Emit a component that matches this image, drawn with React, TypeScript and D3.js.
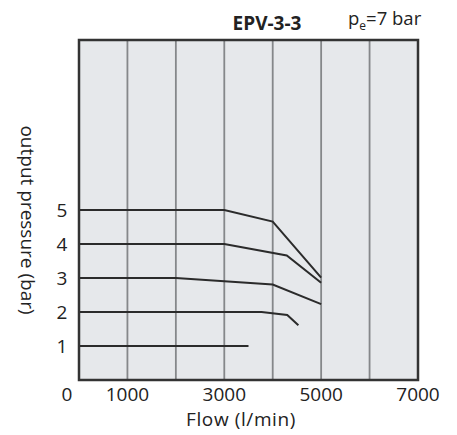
import React from "react";
import * as d3 from "d3";

const xTicks = [0, 1000, 3000, 5000, 7000];
const xGrid = [1000, 2000, 3000, 4000, 5000, 6000];
const yTicks = [1, 2, 3, 4, 5];

const curve5: [number, number][] = [[0, 5], [3000, 5], [4000, 4.66], [5000, 3.01]];
const curve4: [number, number][] = [[0, 4], [3000, 4], [4290, 3.66], [5000, 2.86]];
const curve3: [number, number][] = [[0, 3], [2000, 3], [4000, 2.81], [5000, 2.23]];
const curve2: [number, number][] = [[0, 2], [3770, 2], [4300, 1.91], [4530, 1.61]];
const curve1: [number, number][] = [[0, 1], [3500, 1]];
const curves = [curve5, curve4, curve3, curve2, curve1];

const W = 457, H = 435;
const left = 79, right = 418, top = 40, bottom = 380;

export default function App() {
  const x = d3.scaleLinear().domain([0, 7000]).range([left, right]);
  const y = d3.scaleLinear().domain([0, 10]).range([bottom, top]);
  const line = d3.line<[number, number]>().x(d => x(d[0])).y(d => y(d[1]));
  const font = "'Open Sans', sans-serif";
  return (
    <svg width={W} height={H} style={{ position: "absolute", left: 0, top: 0, background: "#fff" }}>
      <rect x={left} y={top} width={right - left} height={bottom - top} fill="#e6e8eb" />
      {xGrid.map(v => (
        <line key={v} x1={x(v)} x2={x(v)} y1={top} y2={bottom} stroke="#85878a" strokeWidth={1.8} />
      ))}
      {curves.map((c, i) => (
        <path key={i} d={line(c) ?? ""} fill="none" stroke="#2b2b2b" strokeWidth={2} />
      ))}
      <rect x={left} y={top} width={right - left} height={bottom - top} fill="none" stroke="#333" strokeWidth={2.5} />
      {xTicks.map(v => (
        <text key={v} x={v === 0 ? x(v) - 12 : x(v)} y={400.5} textAnchor="middle" fontFamily={font} fontSize={19} fill="#222">{v}</text>
      ))}
      {yTicks.map(v => (
        <text key={v} x={62} y={y(v) + 6.5} textAnchor="middle" fontFamily={font} fontSize={19} fill="#222">{v}</text>
      ))}
      <text x={241} y={426} textAnchor="middle" fontFamily={font} fontSize={19} letterSpacing={0.6} fill="#222">Flow (l/min)</text>
      <text transform={`translate(21,220) rotate(90)`} textAnchor="middle" fontFamily={font} fontSize={19} fill="#222">output pressure (bar)</text>
      <text x={267} y={30} textAnchor="middle" fontFamily={font} fontSize={19} fontWeight="bold" fill="#222">EPV-3-3</text>
      <text x={348} y={25} fontFamily={font} fontSize={18.5} fill="#222">
        p<tspan fontSize={12} dy={5}>e</tspan><tspan dy={-5}>=7 bar</tspan>
      </text>
    </svg>
  );
}
